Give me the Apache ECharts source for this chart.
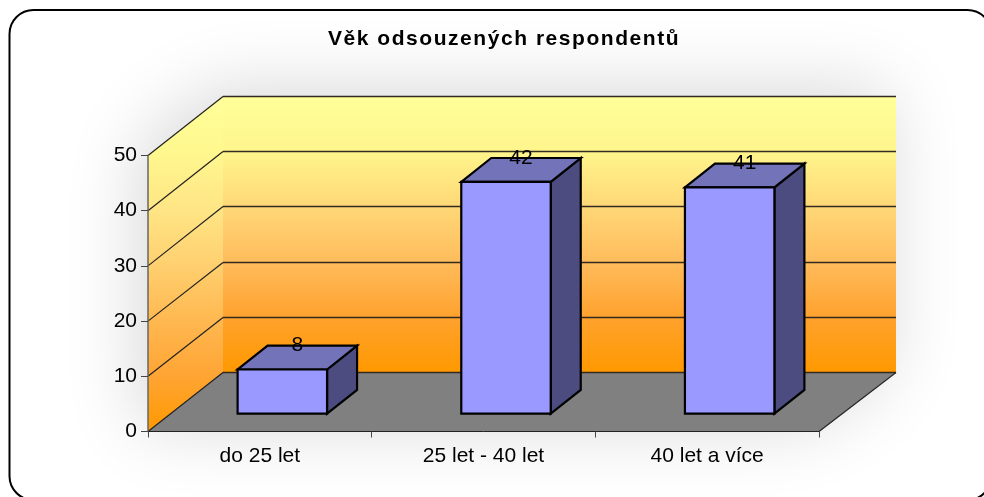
<!DOCTYPE html>
<html><head><meta charset="utf-8">
<style>html,body{margin:0;padding:0;background:#fff}#c{width:984px;height:497px}</style>
<script src="https://cdn.jsdelivr.net/npm/echarts@6/dist/echarts.min.js"></script>
</head><body><div id="c"></div>
<script>
const titleText = 'Věk odsouzených respondentů';
const categories = ['do 25 let', '25 let - 40 let', '40 let a více'];
const values = [8, 42, 41];
const yTicks = [0, 10, 20, 30, 40, 50];

const DX = 75, DY = 59.5, FONT = 'Liberation Sans, Arial, sans-serif';
const wallGrad = (y0, y1, stops) => ({type:'linear',x:0,y:y0,x2:0,y2:y1,global:true,
  colorStops:stops.map(s=>({offset:s[0],color:s[1]}))});
const backStops=[[0,'#ffff99'],[.2,'#fff58c'],[.4,'#ffd877'],[.6,'#ffbc5c'],[.8,'#ffa22e'],[1,'#ff9900']];
const sideStops=[[0,'#ffff99'],[.16,'#fff88f'],[.34,'#ffe585'],[.5,'#ffd070'],[.67,'#ffb850'],[.83,'#ffa535'],[1,'#ff9900']];

const chart = echarts.init(document.getElementById('c'), null, {renderer:'canvas'});
chart.setOption({
  animation:false,
  backgroundColor:'#fff',
  title:{text:titleText,left:499,textAlign:'center',top:24,
    textStyle:{fontFamily:FONT,fontSize:21,fontWeight:'bold',color:'#000'}},
  graphic:[{type:'rect',z:-1,shape:{x:9.5,y:10,width:982,height:490,r:24},
    style:{fill:'#fff',stroke:'#000',lineWidth:2}}],
  grid:{left:148,top:155.5,width:671,height:276,containLabel:false},
  xAxis:{type:'category',data:categories,z:3,
    axisLine:{lineStyle:{color:'#222',width:1}},
    axisTick:{show:true,length:6,lineStyle:{color:'#444'}},
    axisLabel:{fontFamily:FONT,fontSize:21,color:'#000',margin:14}},
  yAxis:{type:'value',min:0,max:50,interval:10,z:3,
    axisLine:{show:true,lineStyle:{color:'#666',width:1.5}},
    axisTick:{show:true,length:7,lineStyle:{color:'#444'}},
    splitLine:{show:false},
    axisLabel:{fontFamily:FONT,fontSize:21,color:'#000',margin:11}},
  series:[
    {type:'custom',z:1,silent:true,data:[0],coordinateSystem:'cartesian2d',clip:false,
     renderItem:(params,api)=>{
       const g=params.coordSys, L=g.x, R=g.x+g.width, B=g.y+g.height, T=g.y;
       const ch=[];
       const poly=(pts,style,extra)=>ch.push(Object.assign({type:'polygon',shape:{points:pts},style},extra||{}));
       const line=(a,b,stroke,w)=>ch.push({type:'line',shape:{x1:a[0],y1:a[1],x2:b[0],y2:b[1]},style:{stroke,lineWidth:w||1}});
       const BR=R+77;
       poly([[L,T],[L+DX,T-DY],[BR,T-DY],[BR,B-DY],[R,B],[L,B]],
            {fill:'#ddd',shadowBlur:75,shadowColor:'rgba(0,0,0,0.16)',shadowOffsetX:-8,shadowOffsetY:-6});
       poly([[L+DX,T-DY],[BR,T-DY],[BR,B-DY],[L+DX,B-DY]],{fill:wallGrad(T-DY,B-DY,backStops)});
       poly([[L,T],[L+DX,T-DY],[L+DX,B-DY],[L,B]],{fill:wallGrad(T-DY,B,sideStops)});
       poly([[L,B],[L+DX,B-DY],[BR,B-DY],[R,B]],{fill:'#808080'});
       yTicks.forEach(t=>{
         const y=api.coord([0,t])[1], by=Math.round(y-DY)+0.5;
         line([L,y],[L+DX,by],'#222',1.2);
         line([L+DX,by],[BR,by],'#332b20',1.3);
         if(t===0) line([BR,by],[R,y],'#222',1.2);
       });
       return {type:'group',children:ch};
     }},
    {type:'custom',z:4,silent:true,data:values.map((v,i)=>[i,v]),clip:false,
     encode:{x:0,y:1},
     renderItem:(params,api)=>{
       const p=api.coord([api.value(0),api.value(1)]), base=api.coord([api.value(0),0]);
       const band=api.size([1,0])[0], w=band*0.4, dp=0.4;
       const x0=p[0]-w/2+0.3*DX, x1=x0+w, yb=base[1]-0.3*DY, yt=p[1]-0.3*DY;
       const ox=dp*DX, oy=dp*DY;
       const bs={stroke:'#000',lineWidth:2.2,lineJoin:'miter'};
       return {type:'group',children:[
         {type:'polygon',shape:{points:[[x1,yb],[x1+ox,yb-oy],[x1+ox,yt-oy],[x1,yt]]},style:Object.assign({fill:'#4c4c80'},bs)},
         {type:'polygon',shape:{points:[[x0,yt],[x1,yt],[x1+ox,yt-oy],[x0+ox,yt-oy]]},style:Object.assign({fill:'#7373b9'},bs)},
         {type:'polygon',shape:{points:[[x0,yb],[x1,yb],[x1,yt],[x0,yt]]},style:Object.assign({fill:'#9999ff'},bs)},
         {type:'text',style:{text:String(api.value(1)),x:(x0+x1)/2+ox/2,y:yt-oy,align:'center',verticalAlign:'middle',
           font:'21px '+FONT,fill:'#000'}}
       ]};
     }}
  ]
});
// The reference title is letter-spaced: apply canvas letterSpacing while that one text is painted.
const zr = chart.getZr();
const ctx = zr.painter.getLayers ? Object.values(zr.painter.getLayers())[0].ctx : null;
zr.storage.getDisplayList(true).forEach(el=>{
  if(ctx && el.style && el.style.text===titleText){
    el.beforeBrush=()=>{ctx.letterSpacing='1.55px';};
    el.afterBrush=()=>{ctx.letterSpacing='0px';};
    el.dirty();
  }
});
zr.refreshImmediately();
</script></body></html>
